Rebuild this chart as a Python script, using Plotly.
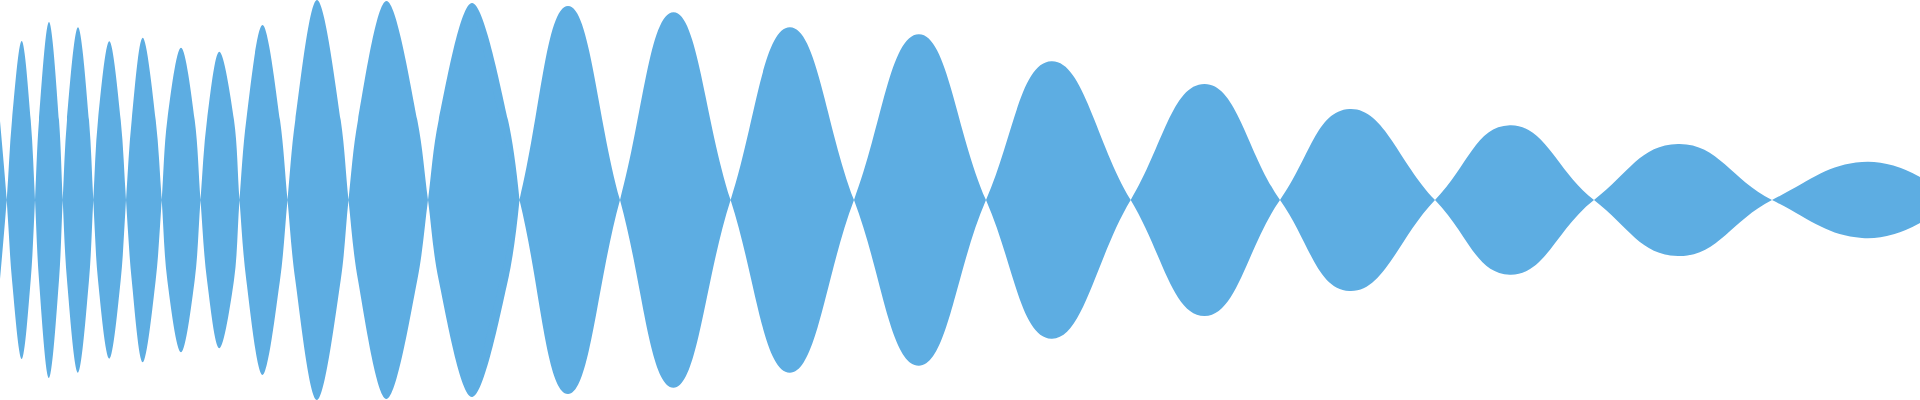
import plotly.graph_objects as go

# Time positions (px-scaled units) where the waveform crosses zero
zero_crossings = [6.7, 35, 62.7, 93.3, 126, 161.7, 200.5, 239.5, 287.5, 348.5,
                  428, 519.5, 620, 730.6, 854, 986, 1130.7, 1280, 1435, 1594, 1772]
# Positions of each lobe's peak
peak_positions = [21.7, 49, 78, 109.3, 142.7, 181, 219.3, 262.5, 317, 386.5,
                  472, 568, 673.5, 789.8, 918.8, 1051.4, 1204.5, 1349.4, 1509.8, 1678, 1862]
# Peak amplitude of each lobe
peak_amplitudes = [159, 178, 172.7, 158.7, 162.3, 152.3, 148.3, 175, 200, 199,
                   197, 194, 187.7, 172.7, 165.7, 138.7, 116, 91, 74.7, 56, 38]
# Extra points read on the flanks of the narrow lobes (position, amplitude)
flank_positions = [12, 30.7, 39, 59, 67, 89, 98, 120.7, 131.7, 155.7,
                   167.3, 194.7, 207, 234, 246.3, 280, 295.3, 340.7, 358, 417.3,
                   438.7, 508]
flank_amplitudes = [80, 80, 80, 80, 80, 80, 80, 80, 80, 80,
                    80, 80, 80, 80, 80, 80, 80, 80, 80, 80,
                    80, 80]
# Values at the left and right edges of the window
edge_positions = [0, 1920]
edge_amplitudes = [-79, 23]
# The narrow part (with flank points) ends at this crossing; the wide part
# (peaks and crossings only) starts at the peak just before it, so they overlap
narrow_end = 519.5
wide_start = 472

COLOR = "#5DADE2"


def lobe_sign(x):
    n = sum(1 for c in zero_crossings if c < x)
    return 1 if n % 2 == 1 else -1


base = [(edge_positions[0], edge_amplitudes[0])]
base += [(c, 0.0) for c in zero_crossings]
base += [(x, lobe_sign(x) * a) for x, a in zip(peak_positions, peak_amplitudes)]
base.append((edge_positions[1], lobe_sign(edge_positions[1]) * edge_amplitudes[1]))
flanks = [(x, lobe_sign(x) * a) for x, a in zip(flank_positions, flank_amplitudes)]

narrow = sorted([p for p in base + flanks if p[0] <= narrow_end], key=lambda p: p[0])
wide = sorted([p for p in base if p[0] >= wide_start], key=lambda p: p[0])

fig = go.Figure()
for seg, smooth in [(narrow, 1.0), (wide, 1.3)]:
    xs = [p[0] for p in seg]
    ys = [p[1] for p in seg]
    fig.add_trace(go.Scatter(x=xs, y=ys, mode="lines",
                             line=dict(width=0, shape="spline", smoothing=smooth, color=COLOR),
                             hoverinfo="skip", showlegend=False))
    fig.add_trace(go.Scatter(x=xs, y=[-v for v in ys], mode="lines",
                             line=dict(width=0, shape="spline", smoothing=smooth, color=COLOR),
                             fill="tonexty", fillcolor=COLOR,
                             hoverinfo="skip", showlegend=False))

fig.update_layout(
    width=1920, height=400,
    margin=dict(l=0, r=0, t=0, b=0, pad=0),
    paper_bgcolor="white", plot_bgcolor="white",
    xaxis=dict(range=[0, 1920], visible=False, fixedrange=True),
    yaxis=dict(range=[-200, 200], visible=False, fixedrange=True),
    showlegend=False,
)
fig.write_html(
    "out.html",
    config={"displayModeBar": False},
    post_script="document.body.style.margin='0';document.body.style.padding='0';document.body.style.overflow='hidden';",
)
